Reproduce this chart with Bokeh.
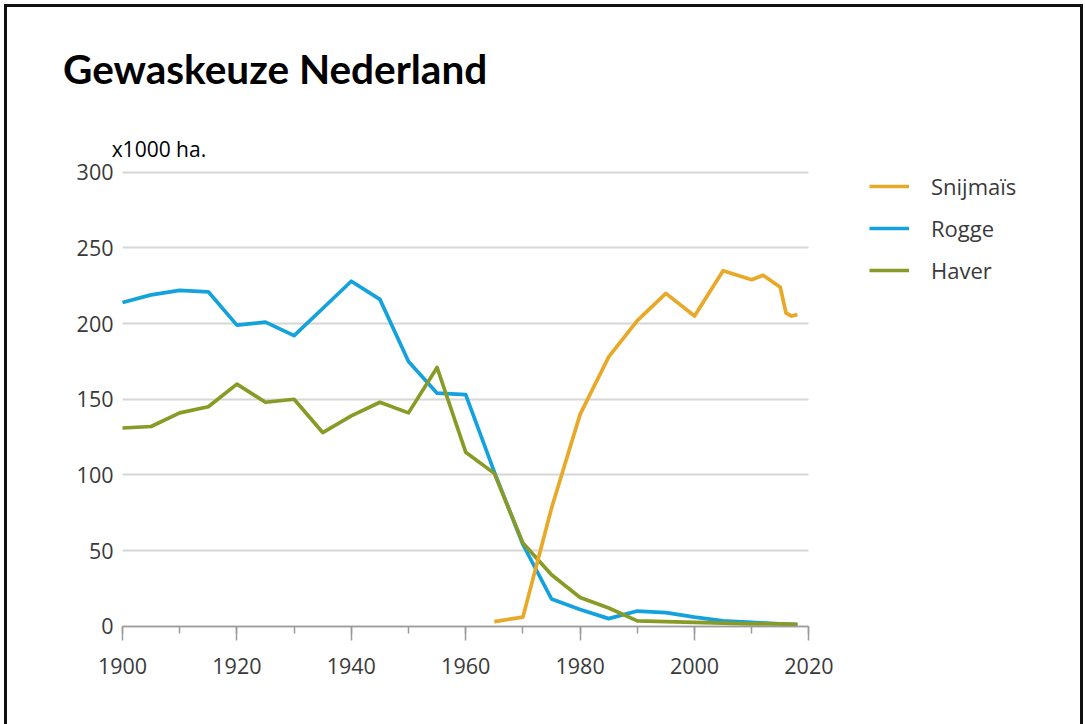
from bokeh.plotting import figure
from bokeh.models import Range1d, FixedTicker, Label, Legend, LegendItem
from bokeh.embed import file_html
from bokeh.resources import INLINE

# ---- data (x1000 ha) ----
years_mais = [1965, 1970, 1975, 1980, 1985, 1990, 1995, 2000, 2005, 2010, 2012, 2015, 2016, 2017, 2018]
snijmais = [3, 6, 78, 140, 178, 202, 220, 205, 235, 229, 232, 224, 207, 205, 206]

years_rogge = [1900, 1905, 1910, 1915, 1920, 1925, 1930, 1935, 1940, 1945, 1950, 1955, 1960,
               1965, 1970, 1975, 1980, 1985, 1990, 1995, 2000, 2005, 2010, 2015, 2018]
rogge = [214, 219, 222, 221, 199, 201, 192, 210, 228, 216, 175, 154, 153,
         102, 54, 18, 11, 5, 10, 9, 6, 3.5, 2.5, 1.5, 1]

years_haver = [1900, 1905, 1910, 1915, 1920, 1925, 1930, 1935, 1940, 1945, 1950, 1955, 1960,
               1965, 1970, 1975, 1980, 1985, 1990, 1995, 2000, 2005, 2010, 2015, 2018]
haver = [131, 132, 141, 145, 160, 148, 150, 128, 139, 148, 141, 171, 115,
         101, 55, 34, 19, 12, 3.5, 3, 2.5, 2, 1.5, 1.5, 1.2]

x_ticks = [1900, 1920, 1940, 1960, 1980, 2000, 2020]
x_minor = [1900, 1910, 1920, 1930, 1940, 1950, 1960, 1970, 1980, 1990, 2000, 2010, 2020]
y_ticks = [0, 50, 100, 150, 200, 250, 300]

title_text = "Gewaskeuze Nederland"
unit_text = "x1000 ha."

# ---- styling ----
C_MAIS = "#e8a928"
C_ROGGE = "#14a2de"
C_HAVER = "#8a9a26"
TXT = "#3a3a3a"

X_PX = 5.72      # pixels per year
Y_PX = 1.513     # pixels per 1000 ha
W, H = 1073, 717 # canvas size
X0_PX, Y0_PX = 115, 618.7   # canvas position of (1900, 0)

x_start = 1900 - X0_PX / X_PX
y_end = Y0_PX / Y_PX

p = figure(width=W, height=H,
           min_border_left=0, min_border_right=0, min_border_top=0, min_border_bottom=0,
           x_range=Range1d(x_start, x_start + W / X_PX),
           y_range=Range1d(y_end - H / Y_PX, y_end),
           output_backend="svg", toolbar_location=None)
p.outline_line_color = None
p.background_fill_color = "white"
p.border_fill_color = "white"
p.margin = (7, 0, 0, 7)
p.styles = {"outline": "3px solid #111111"}

# x axis, drawn at y = 0
xa = p.xaxis[0]
xa.fixed_location = 0
xa.bounds = (1900, 2020)
xa.ticker = FixedTicker(ticks=x_ticks, minor_ticks=x_minor)
xa.axis_line_color = "#9b9b9b"
xa.axis_line_width = 1.5
xa.major_tick_line_color = "#9b9b9b"
xa.major_tick_line_width = 1.5
xa.minor_tick_line_color = "#9b9b9b"
xa.minor_tick_line_width = 1.5
xa.major_tick_out = 14
xa.major_tick_in = 0
xa.minor_tick_out = 7
xa.minor_tick_in = 0
xa.major_label_text_font = "Open Sans"
xa.major_label_text_font_size = "21.5px"
xa.major_label_text_color = TXT
xa.major_label_standoff = 18
p.xgrid.visible = False

# y axis, drawn at x = 1900
ya = p.yaxis[0]
ya.fixed_location = 1900
ya.ticker = FixedTicker(ticks=y_ticks)
ya.axis_line_color = None
ya.major_tick_line_color = None
ya.minor_tick_line_color = None
ya.major_tick_out = 0
ya.major_tick_in = 0
ya.minor_tick_out = 0
ya.minor_tick_in = 0
ya.major_label_standoff = 9
ya.major_label_text_font = "Open Sans"
ya.major_label_text_font_size = "21.5px"
ya.major_label_text_color = TXT

yg = p.ygrid[0]
yg.ticker = FixedTicker(ticks=y_ticks)
yg.grid_line_color = "#d6d6d6"
yg.grid_line_width = 1.8
yg.cross_bounds = (1900, 2020)

# series
r_rogge = p.line(years_rogge, rogge, line_color=C_ROGGE, line_width=3.7, line_join="round")
r_haver = p.line(years_haver, haver, line_color=C_HAVER, line_width=3.7, line_join="round")
r_mais = p.line(years_mais, snijmais, line_color=C_MAIS, line_width=3.7, line_join="round")

legend = Legend(items=[LegendItem(label="Snijmaïs", renderers=[r_mais]),
                       LegendItem(label="Rogge", renderers=[r_rogge]),
                       LegendItem(label="Haver", renderers=[r_haver])],
                location=(862, 439), orientation="vertical",
                glyph_width=40, glyph_height=30, label_height=30, spacing=12,
                padding=0, margin=0, label_standoff=22,
                label_text_font="Open Sans", label_text_font_size="22px",
                label_text_color=TXT, border_line_color=None, background_fill_alpha=0)
p.add_layout(legend)

p.add_layout(Label(x=1889.6, y=368.8, text=title_text, text_font="Lato",
                   text_font_style="bold", text_font_size="40.5px", text_color="black",
                   text_align="left", text_baseline="alphabetic"))
p.add_layout(Label(x=1898.1, y=315.3, text=unit_text, text_font="Open Sans",
                   text_font_size="21px", text_color="black",
                   text_align="left", text_baseline="alphabetic"))

open("out.html", "w").write(file_html(p, INLINE))
